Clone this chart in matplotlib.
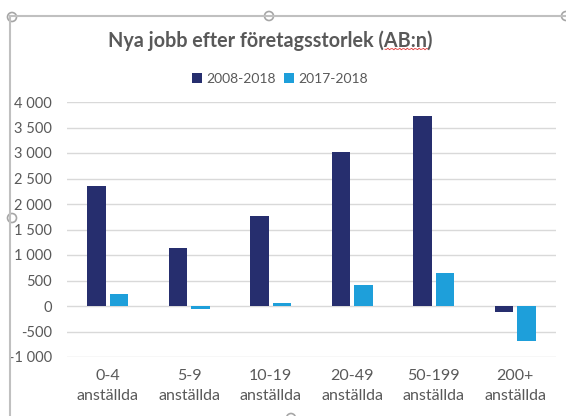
import numpy as np
import matplotlib
matplotlib.use("Agg")
import matplotlib.pyplot as plt
from matplotlib.patches import Ellipse
from matplotlib.lines import Line2D

plt.rcParams['font.family'] = ['Lato', 'DejaVu Sans']

categories = ["0-4\nanställda", "5-9\nanställda", "10-19\nanställda",
              "20-49\nanställda", "50-199\nanställda", "200+\nanställda"]
series_names = ["2008-2018", "2017-2018"]
jobs_2008_2018 = [2350, 1135, 1765, 3010, 3720, -120]
jobs_2017_2018 = [240, -65, 65, 405, 655, -690]
y_ticks = [-1000, -500, 0, 500, 1000, 1500, 2000, 2500, 3000, 3500, 4000]
y_tick_labels = ["-1 000", "-500", "0", "500", "1 000", "1 500", "2 000",
                 "2 500", "3 000", "3 500", "4 000"]

dark = "#262E6E"
light = "#1E9FDA"
txt = "#595959"
W, H = 566, 416

fig = plt.figure(figsize=(W / 100, H / 100), dpi=100)
ax = fig.add_axes([67 / W, (H - 357) / H, (556 - 67) / W, (357 - 102) / H])

x = np.arange(len(categories))
bw = 0.227
gap = 0.05
ax.bar(x - (bw + gap) / 2, jobs_2008_2018, bw, color=dark, label=series_names[0], zorder=3)
ax.bar(x + (bw + gap) / 2, jobs_2017_2018, bw, color=light, label=series_names[1], zorder=3)

ax.set_xlim(-0.5, len(categories) - 0.5)
ax.set_ylim(-1000, 4000)
ax.set_yticks(y_ticks)
ax.set_yticklabels(y_tick_labels)
ax.set_xticks(x)
ax.set_xticklabels(categories, linespacing=1.5)
ax.yaxis.grid(True, color="#D9D9D9", linewidth=1.0, zorder=0)
for s in ax.spines.values():
    s.set_visible(False)
ax.tick_params(axis="both", length=0, labelcolor=txt)
ax.tick_params(axis="y", pad=11, labelsize=10.5)
ax.tick_params(axis="x", pad=9, labelsize=11.5)

fig.text(270 / W, 1 - 41 / H, "Nya jobb efter företagsstorlek (AB:n)", ha="center", va="center",
         fontsize=14.2, fontweight="bold", color=txt)
fig.legend(loc="center", bbox_to_anchor=(280 / W, 1 - 79 / H), ncol=2, frameon=False,
           fontsize=10, handlelength=0.7, handleheight=0.7, handletextpad=0.3,
           columnspacing=0.6, labelcolor=txt)

# spell-check squiggle under "AB:n"
sx = np.linspace(385, 428, 30)
sy = 1 - (49 + 0.8 * np.sin(sx * 1.6)) / H
fig.add_artist(Line2D(sx / W, sy, color="#E03030", linewidth=0.6))

# chart frame and selection handles
fig.add_artist(Line2D([10 / W, 10 / W], [0, 1 - 16 / H], color="#C0C0C0", linewidth=1.5))
fig.add_artist(Line2D([10 / W, 1], [1 - 16 / H, 1 - 16 / H], color="#C0C0C0", linewidth=1.5))
for hx, hy in [(12, 17), (269, 16), (566, 16), (12, 218), (291, 418)]:
    fig.add_artist(Ellipse((hx / W, 1 - hy / H), 9 / W, 9 / H, facecolor="white",
                           edgecolor="#A6A6A6", linewidth=1.2))

fig.savefig("out.png", dpi=100)
